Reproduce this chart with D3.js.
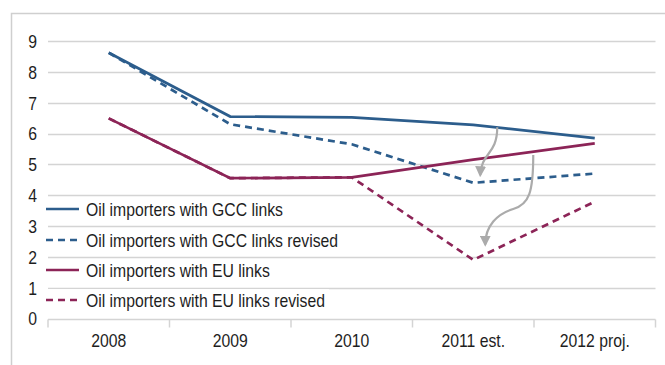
<!DOCTYPE html>
<html>
<head>
<meta charset="utf-8">
<script src="https://cdn.jsdelivr.net/npm/d3@7"></script>
<style>
  html, body { margin: 0; padding: 0; background: #fff; }
  svg text { font-family: "Liberation Sans", Arial, sans-serif; font-size: 19px; fill: #1e1e1e; }
</style>
</head>
<body>
<svg id="chart" width="665" height="365"></svg>
<script>
// Categories and series values
const years = ["2008", "2009", "2010", "2011 est.", "2012 proj."];
const gccLinks = [8.62, 6.55, 6.52, 6.28, 5.85];
const gccLinksRevised = [8.62, 6.3, 5.65, 4.4, 4.7];
const euLinks = [6.49, 4.55, 4.58, 5.15, 5.68];
const euLinksRevised = [6.49, 4.55, 4.58, 1.9, 3.79];
const yTicks = [0, 1, 2, 3, 4, 5, 6, 7, 8, 9];

const seriesNames = [
  "Oil importers with GCC links",
  "Oil importers with GCC links revised",
  "Oil importers with EU links",
  "Oil importers with EU links revised"
];

const blue = "#2c5d8c";
const maroon = "#8c2457";
const series = [
  { name: seriesNames[0], values: gccLinks, color: blue, dash: null },
  { name: seriesNames[1], values: gccLinksRevised, color: blue, dash: "7,5" },
  { name: seriesNames[2], values: euLinks, color: maroon, dash: null },
  { name: seriesNames[3], values: euLinksRevised, color: maroon, dash: "7,5" }
];

const svg = d3.select("#chart");
const plotLeft = 48, plotRight = 655.5, plotTop = 41, plotBottom = 318.5;
const narrow = 0.83; // horizontal squeeze for a condensed typeface look

// place a condensed text label at (tx, ty)
function label(parent, tx, ty, str, anchor, dy) {
  return parent.append("text")
    .attr("transform", `translate(${tx},${ty}) scale(${narrow},1)`)
    .attr("text-anchor", anchor).attr("dy", dy).text(str);
}

// frame: top and left edges only
svg.append("path")
  .attr("d", `M11.5,365 V13.5 H665`)
  .attr("fill", "none").attr("stroke", "#cfcfcf").attr("stroke-width", 1.5);

const x = d3.scaleBand().domain(years).range([plotLeft, plotRight]);
const y = d3.scaleLinear().domain([0, 9]).range([plotBottom, plotTop]);

// horizontal gridlines
svg.append("g").selectAll("line").data(yTicks.filter(d => d > 0)).join("line")
  .attr("x1", plotLeft).attr("x2", plotRight)
  .attr("y1", d => Math.round(y(d)) + 0.5).attr("y2", d => Math.round(y(d)) + 0.5)
  .attr("stroke", "#d4d4d4").attr("stroke-width", 1.5);

// y axis labels
const yAxis = svg.append("g");
yTicks.forEach(v => label(yAxis, 37, y(v), d3.format("d")(v), "end", "0.36em"));

// x axis with boundary ticks
const xAxisG = svg.append("g").attr("transform", `translate(0,${Math.round(plotBottom) + 0.5})`);
xAxisG.append("line").attr("x1", plotLeft).attr("x2", plotRight).attr("stroke", "#d4d4d4").attr("stroke-width", 1.5);
const bounds = years.map(d => x(d)).concat([x(years[years.length - 1]) + x.bandwidth()]);
xAxisG.selectAll("line.tk").data(bounds).join("line").attr("class", "tk")
  .attr("x1", d => d).attr("x2", d => d).attr("y1", 0).attr("y2", 8)
  .attr("stroke", "#d4d4d4").attr("stroke-width", 1.5);
years.forEach(d => label(xAxisG, x(d) + x.bandwidth() / 2, 27, d, "middle", null));

// series lines
const line = d3.line().x((d, i) => x(years[i]) + x.bandwidth() / 2).y(d => y(d));
svg.append("g").selectAll("path").data(series).join("path")
  .attr("d", d => line(d.values))
  .attr("fill", "none").attr("stroke", d => d.color).attr("stroke-width", 2.7)
  .attr("stroke-dasharray", d => d.dash);

// arrows showing the revisions in 2011
const arrowColor = "#ababab";
svg.append("defs").append("marker")
  .attr("id", "head").attr("viewBox", "0 0 10 10").attr("refX", 8).attr("refY", 5)
  .attr("markerWidth", 5).attr("markerHeight", 5).attr("orient", "auto-start-reverse")
  .attr("markerUnits", "strokeWidth")
  .append("path").attr("d", "M0,0 L10,5 L0,10 Z").attr("fill", arrowColor);

const c11 = x(years[3]) + x.bandwidth() / 2;
const arrows = [
  `M${c11 + 24},${y(6.2)} C${c11 + 24},${y(5.3)} ${c11 + 8},${y(5.4)} ${c11 + 7},${y(4.65)}`,
  `M${c11 + 60},${y(5.3)} C${c11 + 60},${y(4.1)} ${c11 + 56},${y(3.7)} ${c11 + 40},${y(3.55)} S${c11 + 12},${y(3.0)} ${c11 + 12},${y(2.4)}`
];
svg.append("g").selectAll("path").data(arrows).join("path")
  .attr("d", d => d).attr("fill", "none").attr("stroke", arrowColor).attr("stroke-width", 2.2)
  .attr("marker-end", "url(#head)");

// legend over the lower left of the plot
const legend = svg.append("g");
const rowY = [209, 240, 270, 300];
series.forEach((s, i) => {
  const g = legend.append("g").attr("transform", `translate(0,${rowY[i]})`);
  const t = label(g, 86, 0, s.name, "start", "0.36em");
  const w = t.node().getComputedTextLength() * narrow;
  g.insert("rect", "text").attr("x", 44).attr("y", -11).attr("width", w + 46).attr("height", 22).attr("fill", "#fff");
  g.insert("line", "text").attr("x1", 46).attr("x2", 79).attr("y1", 0).attr("y2", 0)
    .attr("stroke", s.color).attr("stroke-width", 2.7).attr("stroke-dasharray", s.dash);
});
</script>
</body>
</html>
